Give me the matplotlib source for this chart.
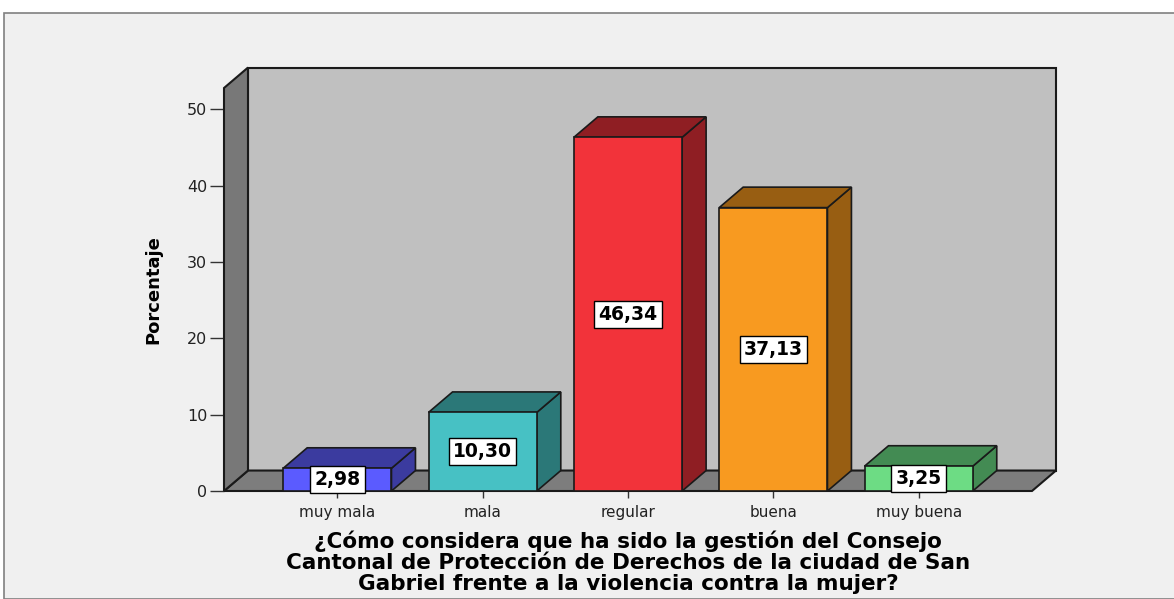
import matplotlib
matplotlib.use("Agg")
import matplotlib.pyplot as plt
from matplotlib.patches import Polygon, Rectangle

categories = ["muy mala", "mala", "regular", "buena", "muy buena"]
values = [2.98, 10.30, 46.34, 37.13, 3.25]
labels = ["2,98", "10,30", "46,34", "37,13", "3,25"]
front_colors = ["#5b5bff", "#47c1c4", "#f2333a", "#f89a20", "#6ddc84"]
dark_colors = ["#3b3b9f", "#2b7878", "#8f1e23", "#985e12", "#438b53"]
yticks = [0, 10, 20, 30, 40, 50]
ylabel = "Porcentaje"
title = ("¿Cómo considera que ha sido la gestión del Consejo\n"
         "Cantonal de Protección de Derechos de la ciudad de San\n"
         "Gabriel frente a la violencia contra la mujer?")

W, H = 1174, 599
fig = plt.figure(figsize=(W / 100, H / 100), dpi=100, facecolor="white")

# outer frame
fig.patches.append(Rectangle((4 / W, 0), 1.2, 1 - 13 / H, transform=fig.transFigure,
                             facecolor="#f0f0f0", edgecolor="#808080", lw=1.2, zorder=-10))

ax = fig.add_axes([224 / W, 1 - 491 / H, (1032 - 224) / W, (491 - 88) / H])
ax.set_facecolor("none")
xmin, xmax = -0.78, 4.78
ymax = 52.8
ax.set_xlim(xmin, xmax)
ax.set_ylim(0, ymax)
for s in ax.spines.values():
    s.set_visible(False)

dx, dy = 0.165, 2.68
bw = 0.745
edge = "#1a1a1a"

# back wall
ax.add_patch(Polygon([(xmin + dx, dy), (xmax + dx, dy), (xmax + dx, ymax + dy), (xmin + dx, ymax + dy)],
                     closed=True, fc="#c0c0c0", ec=edge, lw=1.5, clip_on=False, zorder=1))
# floor
ax.add_patch(Polygon([(xmin, 0), (xmax, 0), (xmax + dx, dy), (xmin + dx, dy)],
                     closed=True, fc="#7d7d7d", ec=edge, lw=1.5, clip_on=False, zorder=2))
# left wall
ax.add_patch(Polygon([(xmin, 0), (xmin, ymax), (xmin + dx, ymax + dy), (xmin + dx, dy)],
                     closed=True, fc="#787878", ec=edge, lw=1.5, clip_on=False, zorder=2))

x = list(range(len(categories)))
ax.bar(x, values, width=bw, color=front_colors, edgecolor=edge, lw=1.2, zorder=5, clip_on=False)
for xi, v, dc in zip(x, values, dark_colors):
    l, r = xi - bw / 2, xi + bw / 2
    ax.add_patch(Polygon([(r, 0), (r + dx, dy), (r + dx, v + dy), (r, v)], closed=True,
                         fc=dc, ec=edge, lw=1.2, zorder=4, clip_on=False))
    ax.add_patch(Polygon([(l, v), (r, v), (r + dx, v + dy), (l + dx, v + dy)], closed=True,
                         fc=dc, ec=edge, lw=1.2, zorder=4, clip_on=False))

for xi, v, t in zip(x, values, labels):
    ax.text(xi, v / 2, t, ha="center", va="center", fontsize=13.5, fontweight="bold",
            family="DejaVu Sans", zorder=10,
            bbox=dict(boxstyle="square,pad=0.22", fc="white", ec="black", lw=1))

ax.set_yticks(yticks)
ax.set_yticklabels([str(t) for t in yticks], fontsize=11.5, color="#222222", family="DejaVu Sans")
ax.tick_params(axis="y", length=10, width=1, color="#333333", pad=2)
ax.set_xticks(x)
ax.set_xticklabels(categories, fontsize=11, color="#222222", family="DejaVu Sans")
ax.tick_params(axis="x", length=5, width=1, color="#333333", pad=5)

ax.set_ylabel(ylabel, fontsize=13, fontweight="bold", family=["Liberation Sans Narrow", "DejaVu Sans"])
ax.yaxis.set_label_coords(-0.076, 0.5)

fig.text(628 / W, 1 - 562 / H, title, ha="center", va="center", fontsize=15.5, fontweight="bold",
         family="DejaVu Sans", linespacing=1.06, multialignment="center")

fig.savefig("out.png", dpi=100, facecolor=fig.get_facecolor())
